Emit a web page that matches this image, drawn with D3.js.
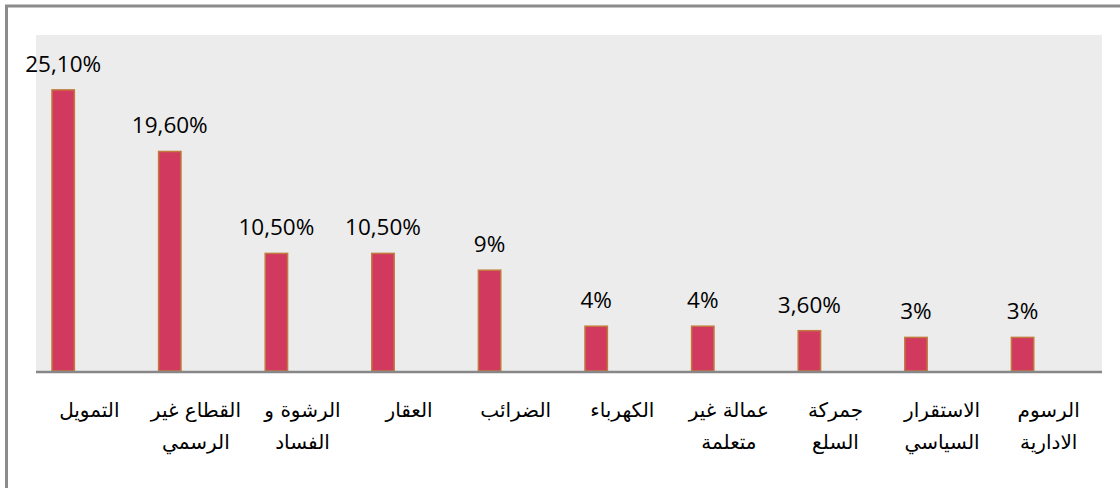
<!DOCTYPE html>
<html>
<head>
<meta charset="utf-8">
<script src="https://cdn.jsdelivr.net/npm/d3@7"></script>
<style>
  body { margin: 0; background: #fff; }
  svg { display: block; }
</style>
</head>
<body>
<svg id="chart"></svg>
<script>
const categories = [
    'التمويل',
    'القطاع غير\nالرسمي',
    'الرشوة و\nالفساد',
    'العقار',
    'الضرائب',
    'الكهرباء',
    'عمالة غير\nمتعلمة',
    'جمركة\nالسلع',
    'الاستقرار\nالسياسي',
    'الرسوم\nالادارية'
];
const values = [25.1, 19.6, 10.5, 10.5, 9, 4, 4, 3.6, 3, 3];
const valueLabels = ['25,10%', '19,60%', '10,50%', '10,50%', '9%', '4%', '4%', '3,60%', '3%', '3%'];

const totalWidth = 1120;
const totalHeight = 488;
const margin = { top: 35, right: 18, bottom: 117, left: 36 };
const width = totalWidth - margin.left - margin.right;
const height = totalHeight - margin.top - margin.bottom;

const svg = d3.select('#chart')
    .attr('width', totalWidth)
    .attr('height', totalHeight);

// outer frame
svg.append('rect')
    .attr('x', 6.5)
    .attr('y', 6)
    .attr('width', 1140)
    .attr('height', 520)
    .attr('fill', 'none')
    .attr('stroke', '#8c8c8c')
    .attr('stroke-width', 3);

const g = svg.append('g')
    .attr('transform', `translate(${margin.left},${margin.top})`);

// plot background
g.append('rect')
    .attr('width', width)
    .attr('height', height)
    .attr('fill', '#ececec');

const data = categories.map((c, i) => ({ cat: c, value: values[i], label: valueLabels[i] }));

const x = d3.scaleBand()
    .domain(categories)
    .range([0, width]);

const y = d3.scaleLinear()
    .domain([0, 30])
    .range([height, 0]);

const barW = x.bandwidth() * 0.21;
const barX = d => x(d.cat) + x.bandwidth() * 0.15;

g.selectAll('.bar')
    .data(data)
    .enter().append('rect')
    .attr('class', 'bar')
    .attr('x', d => barX(d))
    .attr('y', d => y(d.value))
    .attr('width', barW)
    .attr('height', d => height - y(d.value))
    .attr('fill', '#d13a5e')
    .attr('stroke', '#c27a3c')
    .attr('stroke-width', 1.5);

g.selectAll('.val')
    .data(data)
    .enter().append('text')
    .attr('class', 'val')
    .attr('x', d => barX(d) + barW / 2)
    .attr('y', d => y(d.value) - 18)
    .attr('text-anchor', 'middle')
    .style('font-family', '"Open Sans", sans-serif')
    .style('font-size', '22.5px')
    .style('fill', '#000')
    .text(d => d.label);

// x axis line
g.append('line')
    .attr('x1', 0)
    .attr('x2', width)
    .attr('y1', height + 1)
    .attr('y2', height + 1)
    .attr('stroke', '#878787')
    .attr('stroke-width', 2.5);

const catText = g.selectAll('.cat')
    .data(data)
    .enter().append('text')
    .attr('class', 'cat')
    .attr('text-anchor', 'middle')
    .attr('direction', 'rtl')
    .style('font-family', '"DejaVu Sans", sans-serif')
    .style('font-size', '20px')
    .style('fill', '#000');

catText.selectAll('tspan')
    .data(d => d.cat.split('\n').map(t => ({ t, cx: x(d.cat) + x.bandwidth() / 2 })))
    .enter().append('tspan')
    .attr('x', d => d.cx)
    .attr('y', (d, i) => height + 46 + i * 32)
    .text(d => d.t);
</script>
</body>
</html>
